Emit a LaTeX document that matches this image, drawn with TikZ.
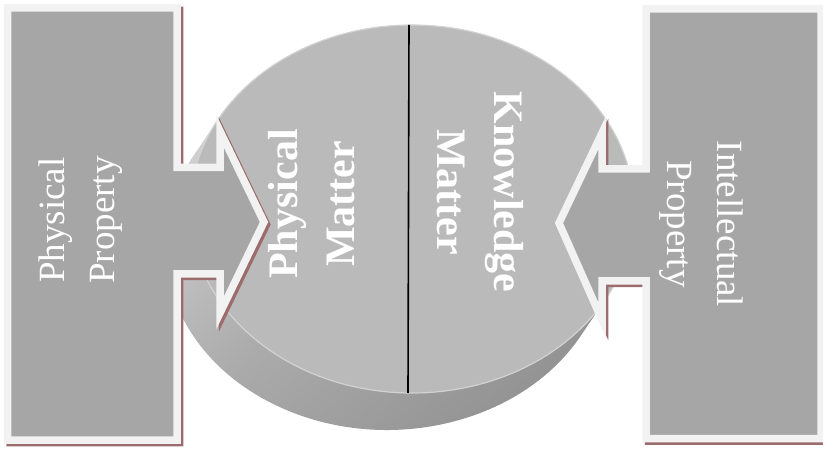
\documentclass[tikz,border=0pt]{standalone}
\usepackage{fontspec}
\setmainfont{Liberation Serif}
\usepackage{xcolor}
\definecolor{BlockGray}{HTML}{A6A6A6}
\definecolor{BlockEdge}{HTML}{F2F2F2}
\definecolor{ShadowBrown}{HTML}{9C6C6C}
\definecolor{DiskTop}{HTML}{BABABA}
\definecolor{DiskRim}{HTML}{D2D2D2}
\definecolor{SideLight}{HTML}{DADADA}
\definecolor{SideMid}{HTML}{ABABAB}
\definecolor{SideDark}{HTML}{8F8F8F}
\usepackage{tikz}
\usetikzlibrary{calc}
\tikzset{
  block/.style={fill=BlockGray,draw=BlockEdge,line width=7.5pt,line join=miter,miter limit=20},
  blockshadow/.style={block,fill=ShadowBrown,draw=ShadowBrown,shift={(2.5,2.5)}},
  diskside/.style={shading=axis,top color=SideLight,bottom color=SideDark,middle color=SideMid,shading angle=40},
  disktop/.style={fill=DiskTop,draw=DiskRim,line width=1.2pt},
  divider/.style={draw=black,line width=1.6pt},
  outerlabel/.style={text=white,inner sep=0pt,align=center,font=\fontsize{37}{50}\selectfont},
  innerlabel/.style={text=white,inner sep=0pt,align=center,font=\bfseries\fontsize{42}{57}\selectfont}
}

\begin{document}
\begin{tikzpicture}[x=1pt,y=-1pt]
  \useasboundingbox (0,0) rectangle (823,449);
  \coordinate (topc) at (412,209);
  \coordinate (botc) at (387,246);
  % disk: side first, then top face
  \shade[diskside] ($(botc)+(209.25:222 and 184)$)
    arc[start angle=209.25,end angle=29.25,x radius=222,y radius=184]
    -- ($(topc)+(29.25:222 and 184)$)
    arc[start angle=29.25,end angle=-150.75,x radius=222,y radius=184] -- cycle;
  \path[disktop] (topc) ellipse[x radius=222,y radius=184];
  \coordinate (divtop) at (409,25);
  \coordinate (divbot) at (408,393);
  \draw[divider] (divtop) -- (divbot);
  % left block
  \draw[blockshadow] (7.5,8) -- (177,8) -- (177,167.5) -- (220,167.5) -- (220,131) -- (264,222)
    -- (220,313) -- (220,274) -- (177,274) -- (177,440) -- (7.5,440) -- cycle;
  \draw[block] (7.5,8) -- (177,8) -- (177,167.5) -- (220,167.5) -- (220,131) -- (264,222)
    -- (220,313) -- (220,274) -- (177,274) -- (177,440) -- (7.5,440) -- cycle;
  % right block
  \draw[blockshadow] (821,9) -- (646,9) -- (646,169) -- (602,169) -- (602,133) -- (559,223)
    -- (602,320) -- (602,281) -- (646,281) -- (646,438.5) -- (821,438.5) -- cycle;
  \draw[block] (821,9) -- (646,9) -- (646,169) -- (602,169) -- (602,133) -- (559,223)
    -- (602,320) -- (602,281) -- (646,281) -- (646,438.5) -- (821,438.5) -- cycle;
  % labels
  \node[outerlabel,rotate=90] (physprop) at (81,220) {Physical\\Property};
  \node[outerlabel,rotate=-90] (intprop) at (701,224) {Intellectual\\Property};
  \node[innerlabel,rotate=90] (physmat) at (312,204) {Physical\\Matter};
  \node[innerlabel,rotate=-90] (knowmat) at (480,192) {Knowledge\\Matter};
\end{tikzpicture}
\end{document}
